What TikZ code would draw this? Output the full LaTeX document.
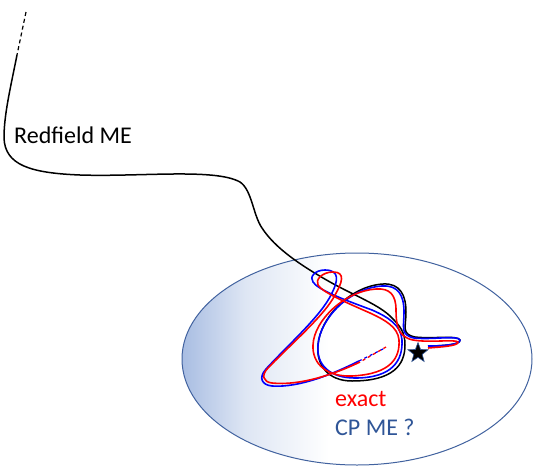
\documentclass[tikz,border=0pt]{standalone}
\usepackage{fontspec}
\setmainfont{Carlito}
\usetikzlibrary{shapes.geometric}
\definecolor{ellfillc}{RGB}{168,189,226}
\definecolor{ellmid}{RGB}{222,230,244}
\definecolor{elledge}{RGB}{65,98,159}
\definecolor{cpblue}{RGB}{47,85,151}
\definecolor{trajblue}{RGB}{0,0,255}
\pgfdeclarehorizontalshading{ellshade}{100bp}{color(0bp)=(ellfillc); color(25bp)=(ellfillc); color(34bp)=(ellmid); color(46bp)=(white); color(100bp)=(white)}
\tikzset{
  redtraj/.style={draw=red, line width=1.6pt, line join=round},
  bluetraj/.style={draw=trajblue, line width=1.6pt, line join=round},
  blacktraj/.style={draw=black, line width=1.5pt, line join=round},
  lbl/.style={inner sep=0pt, anchor=base west, font=\fontsize{24}{27}\selectfont},
}
\begin{document}
\begin{tikzpicture}[x=1pt,y=-1pt]
\useasboundingbox (0,0) rectangle (533,466);
% region
\shade[shading=ellshade] (357,359) ellipse [x radius=175, y radius=106];
\draw[elledge, line width=1pt] (357,359) ellipse [x radius=175, y radius=106];
\coordinate (rstart) at (26,12);
\coordinate (rsolid) at (17,55);
% Redfield trajectory
\draw[black, line width=1.2pt, dash pattern=on 4pt off 3pt] (rstart) -- (rsolid);
\path[blacktraj] (rsolid) .. controls (10,90) and (4,115) .. (4,138)
  .. controls (5,165) and (30,173) .. (80,175)
  .. controls (140,177) and (215,168) .. (240,182)
  .. controls (252,190) and (253,215) .. (262,228)
  .. controls (275,248) and (300,265) .. (330,282)
  .. controls (355,296) and (380,305) .. (392,318)
  .. controls (400,326) and (405,332) .. (405,345)
  .. controls (405,365) and (393,381) .. (352,381)
  .. controls (328,381) and (316,365) .. (318,345)
  .. controls (320,318) and (350,286) .. (383,284)
  .. controls (400,283) and (406,295) .. (406,312)
  .. controls (406,327) and (401,334) .. (415,337)
  .. controls (432,339) and (458,335) .. (460,340)
  .. controls (461,345) and (440,346) .. (428,346);
% CP ME trajectory
\coordinate (bdash) at (385,348);
\coordinate (bstart) at (359,361);
\draw[trajblue, line width=1.3pt, dash pattern=on 3pt off 3pt] (bstart) -- (bdash);
\path[bluetraj] (bstart) .. controls (335,373) and (300,388) .. (272,386)
  .. controls (262,385) and (258,378) .. (266,369)
  .. controls (288,345) and (322,315) .. (332,293)
  .. controls (338,281) and (340,270) .. (325,270)
  .. controls (315,270) and (309,277) .. (313,282)
  .. controls (318,290) and (345,300) .. (372,310)
  .. controls (388,317) and (401,325) .. (402,340)
  .. controls (403,360) and (393,378) .. (355,378)
  .. controls (330,378) and (316,365) .. (318,345)
  .. controls (320,318) and (350,288) .. (382,286)
  .. controls (398,285) and (404,295) .. (404,312)
  .. controls (404,327) and (400,335) .. (414,338)
  .. controls (432,340) and (458,335) .. (460,340)
  .. controls (461,345) and (440,346) .. (428,346);
% exact trajectory
\coordinate (rdash) at (386,347);
\coordinate (rst) at (360,362);
\draw[red, line width=1.3pt, dash pattern=on 3pt off 3pt, dash phase=3pt] (rst) -- (rdash);
\path[redtraj] (rst) .. controls (335,374) and (300,386) .. (272,383)
  .. controls (263,382) and (261,375) .. (268,368)
  .. controls (290,345) and (325,315) .. (335,295)
  .. controls (342,283) and (346,272) .. (333,272)
  .. controls (322,272) and (315,280) .. (318,285)
  .. controls (322,292) and (345,302) .. (370,313)
  .. controls (385,320) and (398,327) .. (399,340)
  .. controls (400,357) and (392,374) .. (352,376)
  .. controls (327,377) and (312,364) .. (313,345)
  .. controls (314,320) and (345,291) .. (376,289)
  .. controls (390,288) and (396,295) .. (396,310)
  .. controls (396,325) and (398,337) .. (413,340)
  .. controls (430,343) and (455,339) .. (458,342)
  .. controls (459,346) and (440,347) .. (428,348);
% steady state
\node[star, star points=5, star point ratio=2.4, minimum size=21pt, inner sep=0pt,
      fill=black, draw=cpblue, line width=0.6pt] (ss) at (418,353) {};
% labels
\node[lbl] (redf) at (14,143) {Redfield ME};
\node[lbl, red] (ex) at (335,406) {exact};
\node[lbl, cpblue] (cp) at (335,435) {CP ME ?};
\end{tikzpicture}
\end{document}
